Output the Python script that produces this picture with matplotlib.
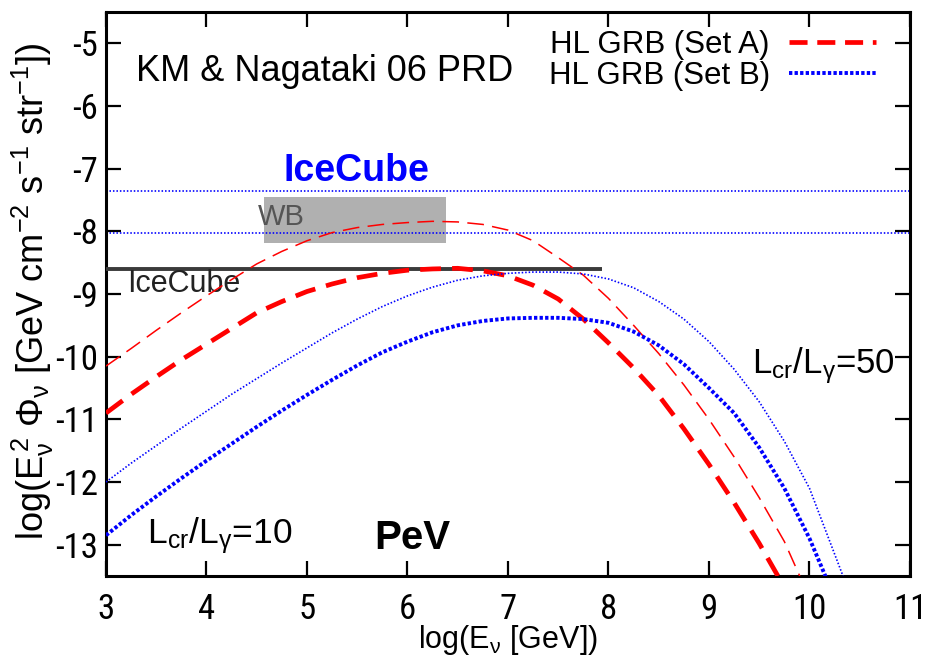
import matplotlib
matplotlib.use("Agg")
import matplotlib.pyplot as plt
from matplotlib.lines import Line2D
from matplotlib.patches import Rectangle
from matplotlib import font_manager

plt.rcParams['font.family'] = ['Liberation Sans', 'DejaVu Sans']
plt.rcParams['mathtext.fontset'] = 'custom'
plt.rcParams['mathtext.rm'] = 'Liberation Sans'
plt.rcParams['mathtext.it'] = 'Liberation Sans'
plt.rcParams['mathtext.bf'] = 'Liberation Sans:bold'
plt.rcParams['lines.scale_dashes'] = False

# narrow face for the tick numbers when one is available
installed = {f.name for f in font_manager.fontManager.ttflist}
narrow = [n for n in ('Roboto Condensed', 'Liberation Sans Narrow', 'DejaVu Sans Condensed')
          if n in installed]
TICK_FONT = narrow[:1] + ['Liberation Sans']
TICK_SIZE = 25 if narrow else 21

# log10(E_nu / GeV)
log_e = [3.0, 3.25, 3.5, 3.75, 4.0, 4.25, 4.5, 4.75, 5.0, 5.25, 5.5, 5.75,
         6.0, 6.25, 6.5, 6.75, 7.0, 7.25, 7.5, 7.75, 8.0, 8.25, 8.5, 8.75,
         9.0, 9.25, 9.5, 9.75, 10.0, 10.25, 10.5]

# log10(E^2 Phi) for the HL GRB models
set_a_50 = [-10.15, -9.87, -9.58, -9.30, -9.03, -8.77, -8.52, -8.32, -8.15,
            -8.02, -7.94, -7.89, -7.86, -7.84, -7.85, -7.89, -7.98, -8.15,
            -8.42, -8.70, -9.07, -9.50, -9.95, -10.45, -11.00, -11.60,
            -12.25, -12.95, -13.85]
set_a_10 = [-10.90, -10.60, -10.32, -10.05, -9.80, -9.55, -9.30, -9.12, -8.96,
            -8.84, -8.74, -8.67, -8.62, -8.60, -8.59, -8.63, -8.71, -8.86,
            -9.08, -9.40, -9.78, -10.18, -10.62, -11.15, -11.72, -12.33,
            -12.98, -13.68]
set_b_50 = [-12.00, -11.70, -11.42, -11.14, -10.87, -10.60, -10.35, -10.10,
            -9.86, -9.62, -9.40, -9.20, -9.03, -8.89, -8.78, -8.71, -8.67,
            -8.65, -8.65, -8.68, -8.76, -8.90, -9.12, -9.40, -9.76, -10.20,
            -10.72, -11.35, -12.10, -13.15, -14.20]
set_b_10 = [-12.85, -12.53, -12.23, -11.94, -11.66, -11.39, -11.12, -10.86,
            -10.61, -10.37, -10.14, -9.93, -9.76, -9.61, -9.50, -9.43, -9.39,
            -9.38, -9.38, -9.40, -9.46, -9.60, -9.82, -10.12, -10.50, -10.90,
            -11.45, -12.10, -12.90, -13.85]

# IceCube sensitivities and Waxman-Bahcall band
icecube_levels = [-7.35, -8.03]
icecube_grb = -8.6
icecube_grb_range = [3.0, 7.94]
wb_x = [4.57, 6.38]
wb_y = [-8.19, -7.46]

x_ticks = [3, 4, 5, 6, 7, 8, 9, 10, 11]
y_ticks = [-13, -12, -11, -10, -9, -8, -7, -6, -5]

RED = '#ff0000'
BLUE = '#0000ff'

fig = plt.figure(figsize=(9.28, 6.66), dpi=100)
ax = fig.add_axes([0.1142, 0.1351, 0.8664, 0.8469])

ax.add_patch(Rectangle((wb_x[0], wb_y[0]), wb_x[1] - wb_x[0], wb_y[1] - wb_y[0],
                       facecolor='#b0b0b0', edgecolor='none', zorder=1))
ax.text(4.51, -7.77, 'WB', fontsize=21, color='#555555', ha='left', va='center', zorder=2)

for lvl in icecube_levels:
    ax.axhline(lvl, color=BLUE, lw=1.2, ls=(0, (1.1, 1.4)), zorder=2)
ax.plot(icecube_grb_range, [icecube_grb, icecube_grb], color='#3a3a3a', lw=2.8,
        solid_capstyle='butt', zorder=3)

ax.plot(log_e[:len(set_a_50)], set_a_50, color=RED, lw=1.1, ls=(0, (12, 6)), zorder=4)
ax.plot(log_e[:len(set_a_10)], set_a_10, color=RED, lw=3.4, ls=(0, (15, 8)),
        dash_capstyle='butt', zorder=4)
ax.plot(log_e[:len(set_b_50)], set_b_50, color=BLUE, lw=1.2, ls=(0, (1.1, 1.4)), zorder=4)
ax.plot(log_e[:len(set_b_10)], set_b_10, color=BLUE, lw=2.8, ls=(0, (2.4, 1.6)), zorder=4)

ax.set_xlim(3, 11)
ax.set_ylim(-13.5, -4.5)
ax.set_xticks(x_ticks)
ax.set_yticks(y_ticks)
ax.set_xticklabels([str(v) for v in x_ticks], family=TICK_FONT, fontsize=TICK_SIZE)
ax.set_yticklabels([str(v) for v in y_ticks], family=TICK_FONT, fontsize=TICK_SIZE)
ax.tick_params(direction='in', length=11, width=1.6, pad=6,
               top=True, right=True, colors='black')
ax.tick_params(axis='x', pad=12)
for sp in ax.spines.values():
    sp.set_linewidth(2.2)

ax.set_xlabel(r'log(E$_\nu$ [GeV])', fontsize=22, va='center')
ax.xaxis.set_label_coords(0.5, -0.113)
ax.set_ylabel(r'log(E$_\nu^{\,2}$ $\Phi_\nu$ [GeV cm$^{-2}$ s$^{-1}$ str$^{-1}$])',
              fontsize=26)
ax.yaxis.set_label_coords(-0.062, 0.505)

ax.text(3.3, -5.45, 'KM & Nagataki 06 PRD', fontsize=26, ha='left', va='center')
ax.text(5.49, -7.03, 'IceCube', fontsize=27, fontweight='bold', color=BLUE,
        ha='center', va='center')
ax.text(3.21, -8.84, 'IceCube', fontsize=22, color='#222222', ha='left', va='center')
ax.text(3.41, -12.85, r'L$_{\rm cr}$/L$_\gamma$=10', fontsize=25.5, ha='left', va='center')
ax.text(6.05, -12.9, 'PeV', fontsize=29, fontweight='bold', ha='center', va='center')
ax.text(9.43, -10.15, r'L$_{\rm cr}$/L$_\gamma$=50', fontsize=25, ha='left', va='center')

handles = [Line2D([], [], color=RED, lw=3.4, ls=(0, (13, 7)), dash_capstyle='butt'),
           Line2D([], [], color=BLUE, lw=2.8, ls=(0, (2.4, 1.6)))]
ax.legend(handles, ['HL GRB (Set A)', 'HL GRB (Set B)'], loc='upper right',
          bbox_to_anchor=(0.958, 0.968), frameon=False, markerfirst=False,
          fontsize=22.5, handlelength=2.8, handletextpad=0.6, labelspacing=0.02,
          borderaxespad=0, borderpad=0)

fig.savefig('out.png', dpi=100)
